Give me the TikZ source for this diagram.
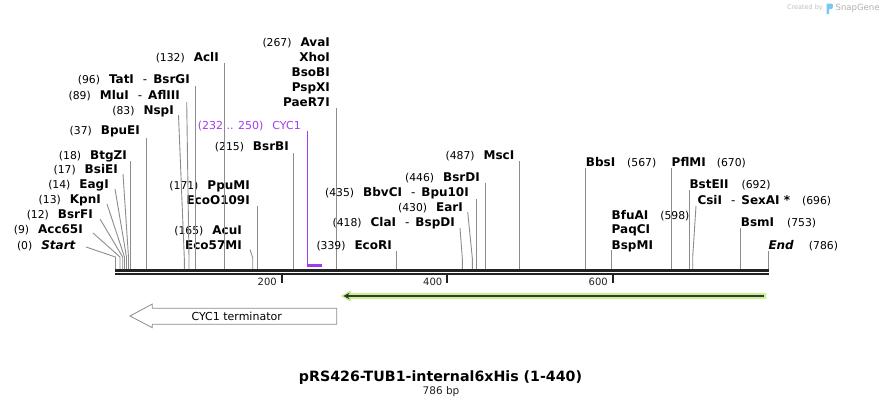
\documentclass[tikz,border=0pt]{standalone}
\usepackage{fontspec}
\setmainfont{DejaVu Sans}
\usetikzlibrary{arrows.meta}
\definecolor{leadgray}{RGB}{140,140,140}
\definecolor{featpurple}{RGB}{160,60,240}
\definecolor{orfgreen}{RGB}{196,242,140}
\definecolor{bbone}{RGB}{34,34,34}
\definecolor{wmgray}{RGB}{175,175,175}
\definecolor{wmblue}{RGB}{120,200,245}
\newcommand{\sgnum}[1]{{\fontsize{10.8}{12}\mdseries\selectfont #1}}
\newcommand{\sgdash}{\hspace{9pt}{\mdseries -}\hspace{6pt}}
\begin{document}
\begin{tikzpicture}[x=1pt,y=-1pt,
  lead/.style={draw=leadgray, line width=0.9pt},
  lname/.style={anchor=base east, inner sep=0pt, font=\fontsize{12}{14}\selectfont\bfseries},
  rname/.style={anchor=base west, inner sep=0pt, font=\fontsize{12}{14}\selectfont\bfseries},
  ticklab/.style={anchor=east, inner sep=0pt, font=\fontsize{10}{12}\selectfont, text=bbone},
  tick/.style={draw=bbone, line width=2pt},
  bb/.style={draw=bbone, line width=2.4pt}]
\useasboundingbox (0,0) rectangle (884,408);

% ---------- backbone ----------
\coordinate (bbL1) at (115,270.5);
\coordinate (bbR1) at (768.5,270.5);
\coordinate (bbL2) at (115,274.2);
\coordinate (bbR2) at (768.5,274.2);
\draw[bb] (bbL1) -- (bbR1);
\draw[bb] (bbL2) -- (bbR2);

% ticks
\coordinate (t200a) at (281.5,275); \coordinate (t200b) at (281.5,283);
\coordinate (t400a) at (447,275); \coordinate (t400b) at (447,283);
\coordinate (t600a) at (612.5,275); \coordinate (t600b) at (612.5,283);
\draw[tick] (t200a) -- (t200b);
\draw[tick] (t400a) -- (t400b);
\draw[tick] (t600a) -- (t600b);
\node[ticklab] (l200) at (277,282) {200};
\node[ticklab] (l400) at (442.5,282) {400};
\node[ticklab] (l600) at (608,282) {600};

% ---------- left cluster labels ----------
\node[lname] (nStart) at (76,249.4) {\sgnum{(0)}\hspace{9pt}\textit{Start}};
\node[lname] (nAcc) at (83,233.4) {\sgnum{(9)}\hspace{9pt}Acc65I};
\node[lname] (nBsrFI) at (93,218.4) {\sgnum{(12)}\hspace{9pt}BsrFI};
\node[lname] (nKpn) at (101,203.4) {\sgnum{(13)}\hspace{9pt}KpnI};
\node[lname] (nEag) at (109,188.4) {\sgnum{(14)}\hspace{9pt}EagI};
\node[lname] (nBsiEI) at (118,173.4) {\sgnum{(17)}\hspace{9pt}BsiEI};
\node[lname] (nBtgZI) at (127,159.4) {\sgnum{(18)}\hspace{9pt}BtgZI};

\coordinate (aStart) at (86,247); \coordinate (kStart) at (115.5,257); \coordinate (sStart) at (115.5,269);
\coordinate (aAcc) at (93,233); \coordinate (kAcc) at (120,257); \coordinate (sAcc) at (120,269);
\coordinate (aBsrFI) at (100,219); \coordinate (kBsrFI) at (122.7,257); \coordinate (sBsrFI) at (122.7,269);
\coordinate (aKpn) at (107,204); \coordinate (kKpn) at (124.5,257); \coordinate (sKpn) at (124.5,269);
\coordinate (aEag) at (115,189); \coordinate (kEag) at (126.5,257); \coordinate (sEag) at (126.5,269);
\coordinate (aBsiEI) at (123,174); \coordinate (kBsiEI) at (128.5,257); \coordinate (sBsiEI) at (128.5,269);
\coordinate (aBtgZI) at (130.7,161); \coordinate (sBtgZI) at (130.7,269);
\draw[lead] (aStart) -- (kStart) -- (sStart);
\draw[lead] (aAcc) -- (kAcc) -- (sAcc);
\draw[lead] (aBsrFI) -- (kBsrFI) -- (sBsrFI);
\draw[lead] (aKpn) -- (kKpn) -- (sKpn);
\draw[lead] (aEag) -- (kEag) -- (sEag);
\draw[lead] (aBsiEI) -- (kBsiEI) -- (sBsiEI);
\draw[lead] (aBtgZI) -- (sBtgZI);

% ---------- upper left labels ----------
\node[lname] (nBpuEI) at (140,134.4) {\sgnum{(37)}\hspace{9pt}BpuEI};
\node[lname] (nNsp) at (174,114.4) {\sgnum{(83)}\hspace{9pt}NspI};
\node[lname] (nMlu) at (180,99.4) {\sgnum{(89)}\hspace{9pt}MluI\sgdash AflIII};
\node[lname] (nTat) at (190,83.4) {\sgnum{(96)}\hspace{9pt}TatI\sgdash BsrGI};
\node[lname] (nAcl) at (219,61.4) {\sgnum{(132)}\hspace{9pt}AclI};
\node[lname] (nPpu) at (250,189.4) {\sgnum{(171)}\hspace{9pt}PpuMI};
\node[lname] (nEcoO) at (250,204.4) {EcoO109I};
\node[lname] (nAcu) at (242,234.4) {\sgnum{(165)}\hspace{9pt}AcuI};
\node[lname] (nEco57) at (242,249.4) {Eco57MI};
\node[lname] (nBsrBI) at (289,150.4) {\sgnum{(215)}\hspace{9pt}BsrBI};

\coordinate (aBpuEI) at (146.7,138); \coordinate (sBpuEI) at (146.7,269);
\coordinate (aNsp) at (178.5,115); \coordinate (kNsp) at (184.3,258); \coordinate (sNsp) at (184.3,269);
\coordinate (aMlu) at (186.7,102); \coordinate (kMlu) at (189,258); \coordinate (sMlu) at (189,269);
\coordinate (aTat) at (195.5,86); \coordinate (sTat) at (195.5,269);
\coordinate (aAcl) at (224.5,63); \coordinate (sAcl) at (224.5,269);
\coordinate (aPpu) at (257.5,206); \coordinate (sPpu) at (257.5,269);
\coordinate (aAcu) at (250,249.5); \coordinate (kAcu) at (252.7,258); \coordinate (sAcu) at (252.7,269);
\coordinate (aBsrBI) at (293.6,153); \coordinate (sBsrBI) at (293.6,269);
\draw[lead] (aBpuEI) -- (sBpuEI);
\draw[lead] (aNsp) -- (kNsp) -- (sNsp);
\draw[lead] (aMlu) -- (kMlu) -- (sMlu);
\draw[lead] (aTat) -- (sTat);
\draw[lead] (aAcl) -- (sAcl);
\draw[lead] (aPpu) -- (sPpu);
\draw[lead] (aAcu) -- (kAcu) -- (sAcu);
\draw[lead] (aBsrBI) -- (sBsrBI);

% ---------- CYC1 feature ----------
\node[anchor=base east, inner sep=0pt, text=featpurple, font=\fontsize{11}{13}\selectfont] (nCyc) at (301,129) {(232 .. 250)\hspace{9pt}CYC1};
\coordinate (aCyc) at (307.5,131); \coordinate (kCyc) at (307.5,265.5); \coordinate (eCyc) at (322,265.5);
\draw[featpurple, line width=1pt] (aCyc) -- (kCyc);
\draw[featpurple, line width=2.2pt] ([xshift=-0.5pt]kCyc) -- (eCyc);

% ---------- AvaI stack ----------
\node[lname] (nAva) at (330,46.4) {\sgnum{(267)}\hspace{9pt}AvaI};
\node[lname] (nXho) at (330,61.4) {XhoI};
\node[lname] (nBso) at (330,76.4) {BsoBI};
\node[lname] (nPsp) at (330,91.4) {PspXI};
\node[lname] (nPae) at (330,106) {PaeR7I};
\coordinate (aAva) at (336.6,108); \coordinate (sAva) at (336.6,269);
\draw[lead] (aAva) -- (sAva);

% ---------- middle labels ----------
\node[lname] (nEcoRI) at (392,249.4) {\sgnum{(339)}\hspace{9pt}EcoRI};
\node[lname] (nCla) at (455,226.4) {\sgnum{(418)}\hspace{9pt}ClaI\sgdash BspDI};
\node[lname] (nEar) at (463,211.4) {\sgnum{(430)}\hspace{9pt}EarI};
\node[lname] (nBbv) at (469,196.4) {\sgnum{(435)}\hspace{9pt}BbvCI\sgdash Bpu10I};
\node[lname] (nBsrDI) at (480,181.4) {\sgnum{(446)}\hspace{9pt}BsrDI};
\node[lname] (nMsc) at (514.5,159.4) {\sgnum{(487)}\hspace{9pt}MscI};

\coordinate (aEcoRI) at (396.7,251); \coordinate (sEcoRI) at (396.7,269);
\coordinate (aCla) at (460,228); \coordinate (kCla) at (462.3,258); \coordinate (sCla) at (462.3,269);
\coordinate (aEar) at (467.7,212); \coordinate (kEar) at (472.3,258); \coordinate (sEar) at (472.3,269);
\coordinate (aBbv) at (476.3,199); \coordinate (sBbv) at (476.3,269);
\coordinate (aBsrDI) at (485.3,183); \coordinate (sBsrDI) at (485.3,269);
\coordinate (aMsc) at (519.3,161); \coordinate (sMsc) at (519.3,269);
\draw[lead] (aEcoRI) -- (sEcoRI);
\draw[lead] (aCla) -- (kCla) -- (sCla);
\draw[lead] (aEar) -- (kEar) -- (sEar);
\draw[lead] (aBbv) -- (sBbv);
\draw[lead] (aBsrDI) -- (sBsrDI);
\draw[lead] (aMsc) -- (sMsc);

% ---------- right labels ----------
\node[rname] (nBbs) at (585.7,166.8) {BbsI\hspace{12pt}\sgnum{(567)}};
\node[rname] (nPfl) at (671.5,166.8) {PflMI\hspace{11pt}\sgnum{(670)}};
\node[rname] (nBstE) at (689.3,188.6) {BstEII\hspace{13pt}\sgnum{(692)}};
\node[rname] (nCsi) at (697.3,204.2) {CsiI\sgdash SexAI *\hspace{12pt}\sgnum{(696)}};
\node[rname] (nBfu) at (611.5,219.4) {BfuAI\hspace{12pt}\sgnum{(598)}};
\node[rname] (nPaq) at (611.5,233.9) {PaqCI};
\node[rname] (nBspM) at (611.5,249.4) {BspMI};
\node[rname] (nBsm) at (740.7,226.2) {BsmI\hspace{13pt}\sgnum{(753)}};
\node[rname] (nEnd) at (768.3,249.4) {\textit{End}\hspace{15pt}\sgnum{(786)}};

\coordinate (aBbs) at (585.7,168); \coordinate (sBbs) at (585.7,269);
\coordinate (aPfl) at (671.5,168); \coordinate (sPfl) at (671.5,269);
\coordinate (aBstE) at (689.3,190); \coordinate (sBstE) at (689.3,269);
\coordinate (aCsi) at (696,206); \coordinate (kCsi) at (692.7,257); \coordinate (sCsi) at (692.7,269);
\coordinate (aBfu) at (611.5,250); \coordinate (sBfu) at (611.5,269);
\coordinate (aBsm) at (740.7,228); \coordinate (sBsm) at (740.7,269);
\coordinate (aEnd) at (768.3,251); \coordinate (sEnd) at (768.3,269);
\draw[lead] (aBbs) -- (sBbs);
\draw[lead] (aPfl) -- (sPfl);
\draw[lead] (aBstE) -- (sBstE);
\draw[lead] (aCsi) -- (kCsi) -- (sCsi);
\draw[lead] (aBfu) -- (sBfu);
\draw[lead] (aBsm) -- (sBsm);
\draw[lead] (aEnd) -- (sEnd);

% ---------- green ORF arrow ----------
\coordinate (orfR) at (763.5,296);
\coordinate (orfL) at (343.5,296);
\fill[orfgreen] (766,293.2) -- (351,293.2) -- (351,290.5) -- (340.5,296) -- (351,301.5) -- (351,298.8) -- (766,298.8) -- cycle;
\draw[bbone!90, line width=1.9pt, -{Stealth[length=6pt,width=6.5pt]}] (orfR) -- (orfL);

% ---------- CYC1 terminator arrow ----------
\draw[draw=leadgray, line width=0.8pt, fill=white]
  (336.7,308.3) -- (152.3,308.3) -- (152.3,304) -- (130,316) -- (152.3,327.7) -- (152.3,324.3) -- (336.7,324.3) -- cycle;
\node[inner sep=0pt, font=\fontsize{11}{13}\selectfont] (nTerm) at (236.7,316.3) {CYC1 terminator};

% ---------- title ----------
\node[inner sep=0pt, font=\fontsize{14.2}{16}\selectfont\bfseries] (title) at (440.5,377.5) {pRS426-TUB1-internal6xHis (1-440)};
\node[inner sep=0pt, font=\fontsize{10.5}{12}\selectfont, text=bbone] (len) at (441,391.5) {786 bp};

% ---------- watermark ----------
\node[anchor=east, inner sep=0pt, text=wmgray!80, font=\fontsize{6.5}{8}\selectfont] (wm1) at (823,8) {Created by};
\fill[wmblue] (826.5,3.5) rectangle (829,14) (829,3.5) -- (831.5,3.5) .. controls (833.5,3.5) and (833.5,9) .. (831.5,9) -- (829,9) -- cycle;
\node[anchor=west, inner sep=0pt, text=wmgray, font=\fontsize{8.5}{10}\selectfont] (wm2) at (835.5,8) {SnapGene};
\end{tikzpicture}
\end{document}
